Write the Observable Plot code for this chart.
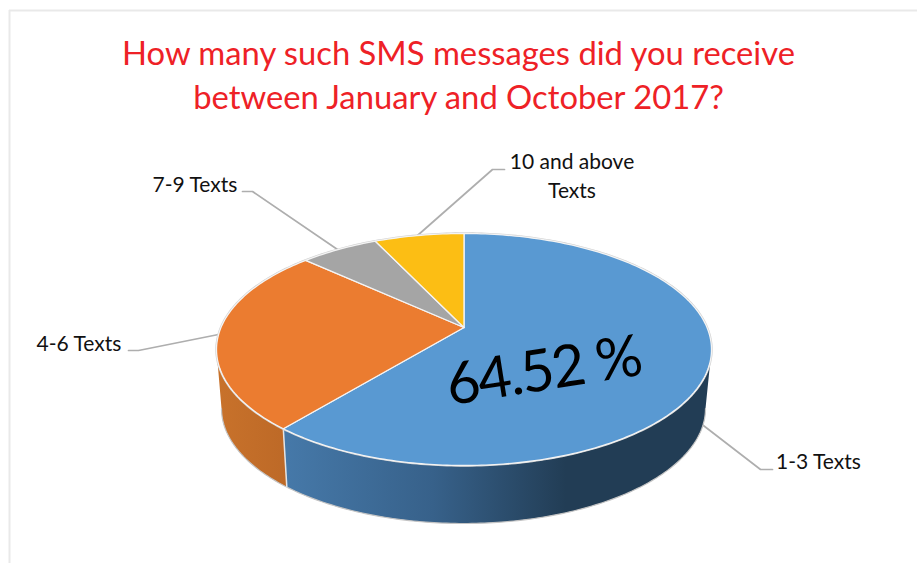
<!DOCTYPE html>
<html>
<head>
<meta charset="utf-8">
<script src="https://cdn.jsdelivr.net/npm/d3@7"></script>
<script src="https://cdn.jsdelivr.net/npm/@observablehq/plot@0.6"></script>
<style>html,body{margin:0;padding:0;background:#fff}svg{display:block}.callout text{letter-spacing:-2px}</style>
</head>
<body>
<div id="chart"></div>
<script>
const titleLines = ["How many such SMS messages did you receive", "between January and October 2017?"];
const categories = ["1-3 Texts", "4-6 Texts", "7-9 Texts", "10 and above Texts"];
const shares = [64.52, 25.54, 4.72, 5.22];
const colors = ["#5999d2", "#eb7c30", "#a5a5a5", "#fcbe14"];
const callout = "64.52 %";

// Picture layout, kept apart from the data.
const W = 917, H = 563;
const apex = [463.5, 327];
const topRim = {cx: 463.5, cy: 349, rx: 247.5, ry: 116};
const baseRim = {cx: 463, cy: 408, rx: 242, ry: 115};
const warp = 6.8; // degrees of perspective distortion of the rim
const rad = Math.PI / 180;

const rimPoint = (rim, phi) => ({
  x: rim.cx + rim.rx * Math.sin(phi * rad),
  y: rim.cy - rim.ry * Math.cos(phi * rad)
});
const toPhi = (share) => {
  const t = share * 3.6;
  return t + warp * Math.sin(t * rad);
};
const arc = (rim, a, b, key) => {
  const n = Math.max(2, Math.ceil(Math.abs(b - a)));
  return d3.range(n + 1).map((i) => ({...rimPoint(rim, a + (b - a) * i / n), key}));
};

// Top-face slices from the shares
const cum = d3.cumsum(shares);
const total = d3.sum(shares);
const slices = categories.flatMap((key, i) => {
  const from = toPhi((i ? cum[i - 1] : 0) * 100 / total);
  const to = toPhi(cum[i] * 100 / total);
  const a = {x: apex[0], y: apex[1], key};
  return [a, ...arc(topRim, from, to, key), a];
});

// Side wall: visible front half only, split at the first slice boundary
const split = toPhi(cum[0] * 100 / total);
const wall = (a, b) => [...arc(topRim, a, b, "w"), ...arc(baseRim, b, a, "w"), {...rimPoint(topRim, a), key: "w"}];
const wallBlue = wall(90, split);
const wallOrange = wall(split, 270);
const seam = [rimPoint(topRim, split), rimPoint(baseRim, split)];
const baseEdge = arc(baseRim, 90, 270, "b");
const topEdge = arc(topRim, 0, 360, "t");

const leaders = [
  {key: categories[0], pts: [[699, 422], [760, 469], [772, 469]]},
  {key: categories[1], pts: [[128, 350], [138, 350], [218, 334]]},
  {key: categories[2], pts: [[242, 191], [252, 191], [337, 249]]},
  {key: categories[3], pts: [[504, 169], [492, 169], [417, 235]]}
].flatMap((d) => d.pts.map(([x, y]) => ({x, y, key: d.key})));

const labels = [
  {t: categories[0], x: 818, y: 462},
  {t: categories[1], x: 78.5, y: 343.5},
  {t: categories[2], x: 194.5, y: 184.5},
  {t: "10 and above", x: 571.5, y: 162},
  {t: "Texts", x: 571.5, y: 190.5}
];
const titles = [{t: titleLines[0], x: 458, y: 54}, {t: titleLines[1], x: 458, y: 98}];

const defs = () => {
  const d = d3.create("svg:defs");
  const g1 = d.append("linearGradient").attr("id", "blueWall");
  [[0, "#4679a9"], [0.35, "#37618a"], [0.66, "#223d55"], [1, "#223d55"]].forEach(([o, c]) =>
    g1.append("stop").attr("offset", o).attr("stop-color", c));
  const g2 = d.append("linearGradient").attr("id", "orangeWall");
  [[0, "#c8722b"], [1, "#bd6927"]].forEach(([o, c]) =>
    g2.append("stop").attr("offset", o).attr("stop-color", c));
  return d.node();
};

const font = "Lato, Carlito, Calibri, sans-serif";
const chart = Plot.plot({
  width: W, height: H,
  margin: 0,
  style: {background: "#fff", fontFamily: font},
  x: {domain: [0, W], range: [0, W], axis: null},
  y: {domain: [0, H], range: [0, H], axis: null},
  color: {domain: categories, range: colors},
  marks: [
    defs,
    Plot.ruleX([9], {y1: 10, y2: H, stroke: "#e9e9e9", strokeWidth: 2}),
    Plot.ruleY([10], {x1: 9, x2: W, stroke: "#e9e9e9", strokeWidth: 2}),
    Plot.line(leaders, {x: "x", y: "y", z: "key", stroke: "#aeaeae", strokeWidth: 1.7}),
    Plot.line(wallBlue, {x: "x", y: "y", fill: "url(#blueWall)", stroke: "none"}),
    Plot.line(wallOrange, {x: "x", y: "y", fill: "url(#orangeWall)", stroke: "none"}),
    Plot.line(baseEdge, {x: "x", y: "y", stroke: "#c4c4c4", strokeWidth: 1.2}),
    Plot.line(seam, {x: "x", y: "y", stroke: "#e4e4e4", strokeWidth: 1.5}),
    Plot.line(topEdge, {x: "x", y: "y", stroke: "#cfcfcf", strokeWidth: 2.4}),
    Plot.line(slices, {x: "x", y: "y", z: "key", fill: "key", stroke: "#f4f4f4", strokeWidth: 1.3, strokeLinejoin: "round"}),
    Plot.text(titles, {x: "x", y: "y", text: "t", fill: "#ee2126", fontSize: 32.75, fontFamily: font}),
    Plot.text(labels, {x: "x", y: "y", text: "t", fill: "#111", fontSize: 21, fontFamily: font}),
    Plot.text([callout], {x: () => 543, y: () => 371, text: (d) => d, rotate: -9, fill: "#000", fontSize: 58, fontFamily: font, className: "callout"})
  ]
});
document.getElementById("chart").append(chart);
</script>
</body>
</html>
